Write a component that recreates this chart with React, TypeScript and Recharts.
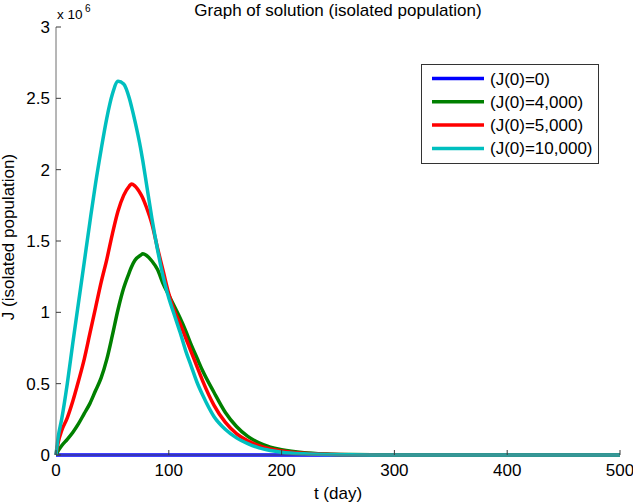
import { Legend, Line, LineChart, XAxis, YAxis } from "recharts";

// t in days, J in units of 10^6
const days = [
  0, 2, 5, 10, 15, 20, 25, 30, 35, 40, 45, 50, 55, 60, 65, 67, 70, 75, 77, 80,
  85, 90, 95, 100, 105, 110, 115, 120, 125, 130, 140, 150, 160, 170, 180, 190,
  200, 220, 240, 260, 280, 300, 350, 400, 450, 500,
];

const j0 = days.map(() => 0);

const j4000 = [
  0, 0.03, 0.065, 0.11, 0.16, 0.22, 0.29, 0.36, 0.45, 0.54, 0.67, 0.84, 1.02,
  1.17, 1.28, 1.32, 1.365, 1.4, 1.41, 1.4, 1.36, 1.3, 1.2, 1.12, 1.04, 0.96,
  0.87, 0.77, 0.68, 0.59, 0.44, 0.3, 0.2, 0.13, 0.085, 0.055, 0.037, 0.016,
  0.007, 0.003, 0.001, 0, 0, 0, 0, 0,
];

const j5000 = [
  0, 0.09, 0.17, 0.26, 0.38, 0.52, 0.67, 0.85, 1.03, 1.21, 1.37, 1.55, 1.71,
  1.82, 1.885, 1.9, 1.885, 1.83, 1.8, 1.74, 1.62, 1.45, 1.29, 1.13, 1.01, 0.92,
  0.82, 0.72, 0.62, 0.52, 0.35, 0.23, 0.15, 0.1, 0.065, 0.042, 0.028, 0.012,
  0.005, 0.002, 0.001, 0, 0, 0, 0, 0,
];

const j10000 = [
  0, 0.13, 0.25, 0.5, 0.79, 1.07, 1.35, 1.63, 1.9, 2.14, 2.36, 2.53, 2.62, 2.6,
  2.5, 2.44, 2.34, 2.15, 2.06, 1.91, 1.66, 1.44, 1.25, 1.1, 0.98, 0.86, 0.73,
  0.62, 0.51, 0.42, 0.27, 0.18, 0.12, 0.08, 0.05, 0.032, 0.02, 0.008, 0.003,
  0.001, 0, 0, 0, 0, 0, 0,
];

const xTicks = [0, 100, 200, 300, 400, 500];
const yTicks = [0, 0.5, 1, 1.5, 2, 2.5, 3];

const series = [
  { key: "j0", name: "(J(0)=0)", color: "#0000ff" },
  { key: "j4000", name: "(J(0)=4,000)", color: "#008000" },
  { key: "j5000", name: "(J(0)=5,000)", color: "#ff0000" },
  { key: "j10000", name: "(J(0)=10,000)", color: "#00bfbf" },
];

const data = days.map((t, i) => ({
  t,
  j0: j0[i],
  j4000: j4000[i],
  j5000: j5000[i],
  j10000: j10000[i],
}));

const font = "'Liberation Sans', Arial, Helvetica, sans-serif";
const axisColor = "#3a3a3a";

const BottomTick = (props: any) => {
  const { x, y, payload } = props;
  return (
    <g>
      <line x1={x} y1={y} x2={x} y2={y - 5} stroke={axisColor} />
      <text x={x} y={y + 21} textAnchor="middle" fontSize={17} fontFamily={font} fill="#000">
        {payload.value}
      </text>
    </g>
  );
};

const TopTick = (props: any) => {
  const { x, y } = props;
  return <line x1={x} y1={y} x2={x} y2={y + 5} stroke={axisColor} />;
};

const LeftTick = (props: any) => {
  const { x, y, payload } = props;
  return (
    <g>
      <line x1={x} y1={y} x2={x + 5} y2={y} stroke={axisColor} />
      <text x={x - 6} y={y + 6} textAnchor="end" fontSize={17} fontFamily={font} fill="#000">
        {payload.value}
      </text>
    </g>
  );
};

const RightTick = (props: any) => {
  const { x, y } = props;
  return <line x1={x} y1={y} x2={x - 5} y2={y} stroke={axisColor} />;
};

const LegendBox = () => (
  <svg width={178} height={100} style={{ display: "block" }}>
    <rect x={0.5} y={0.5} width={177} height={99} fill="#fff" stroke="#333" />
    {series.map((s, i) => {
      const cy = 14.5 + i * 23.3;
      return (
        <g key={s.key}>
          <line x1={11} y1={cy} x2={63} y2={cy} stroke={s.color} strokeWidth={3.5} />
          <text x={69} y={cy + 6} fontSize={17} fontFamily={font} fill="#000">
            {s.name}
          </text>
        </g>
      );
    })}
  </svg>
);

export default function App() {
  return (
    <div style={{ position: "absolute", left: 0, top: 0, width: 633, height: 504, background: "#fff" }}>
      <LineChart
        width={633}
        height={504}
        data={data}
        margin={{ top: 27, right: 13, left: 0, bottom: 0 }}
      >
        <XAxis
          dataKey="t"
          type="number"
          domain={[0, 500]}
          ticks={xTicks}
          height={49}
          tickSize={0}
          tickMargin={0}
          tickLine={false}
          tick={BottomTick}
          axisLine={{ stroke: "#6e6e6e" }}
        />
        <XAxis
          xAxisId="top"
          dataKey="t"
          orientation="top"
          type="number"
          domain={[0, 500]}
          ticks={xTicks}
          height={0}
          tickSize={0}
          tickMargin={0}
          tickLine={false}
          tick={TopTick}
          axisLine={{ stroke: "#222" }}
        />
        <YAxis
          type="number"
          domain={[0, 3]}
          ticks={yTicks}
          width={56}
          tickSize={0}
          tickMargin={0}
          tickLine={false}
          tick={LeftTick}
          axisLine={{ stroke: "#6e6e6e" }}
        />
        <YAxis
          yAxisId="right"
          orientation="right"
          type="number"
          domain={[0, 3]}
          ticks={yTicks}
          width={0}
          tickSize={0}
          tickMargin={0}
          tickLine={false}
          tick={RightTick}
          axisLine={{ stroke: "#222" }}
        />
        {series.map((s) => (
          <Line
            key={s.key}
            dataKey={s.key}
            name={s.name}
            type="monotone"
            stroke={s.color}
            strokeWidth={3.5}
            dot={false}
            activeDot={false}
            isAnimationActive={false}
          />
        ))}
        <Legend
          layout="vertical"
          align="center"
          verticalAlign="middle"
          wrapperStyle={{ left: 421, top: 64, width: 178, height: 100 }}
          content={() => <LegendBox />}
        />
      </LineChart>
      <svg
        width={633}
        height={504}
        style={{ position: "absolute", left: 0, top: 0, pointerEvents: "none" }}
        fontFamily={font}
      >
        <text x={338} y={15.5} textAnchor="middle" fontSize={17}>
          Graph of solution (isolated population)
        </text>
        <text x={57} y={19} fontSize={13.5}>
          x 10
        </text>
        <text x={85} y={12} fontSize={10}>
          6
        </text>
        <text x={338} y={499} textAnchor="middle" fontSize={17}>
          t (day)
        </text>
        <text x={13.5} y={237} textAnchor="middle" fontSize={17} transform="rotate(-90 13.5 237)">
          J (isolated population)
        </text>
      </svg>
    </div>
  );
}
